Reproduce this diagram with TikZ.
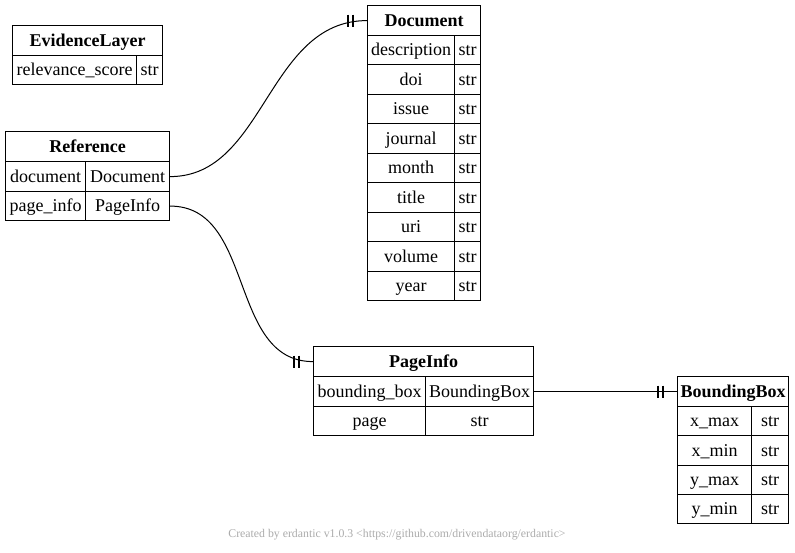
\documentclass[tikz,border=0pt]{standalone}
\usepackage{fontspec}
\setmainfont{Liberation Serif}
\newcommand\tabfont{\fontsize{18}{20}\selectfont}
\newcommand\footfont{\fontsize{11.8}{14}\selectfont}
\tikzset{
  cell/.style={draw, line width=1.2pt, inner sep=0pt, anchor=north west, font=\tabfont,
    text height=13.5pt, text depth=2.5pt},
  headcell/.style={cell, font=\tabfont\bfseries},
  rel/.style={draw, line width=1pt},
  bar/.style={draw, line width=2.8pt},
}
% \erow{name}{x}{y}{w1}{w2}{h}{key}{type}
\newcommand\erow[8]{%
  \node[cell, minimum width=#4pt, minimum height=#6pt] (#1-k) at (#2,#3) {#7};
  \node[cell, minimum width=#5pt, minimum height=#6pt] (#1-t) at (#2+#4,#3) {#8};
}
\newcommand\ehead[6]{% name x y w h text
  \node[headcell, minimum width=#4pt, minimum height=#5pt] (#1) at (#2,#3) {#6};
}
\begin{document}
\begin{tikzpicture}[x=1pt,y=-1pt]
\useasboundingbox (0,0) rectangle (795,553);
% EvidenceLayer
\ehead{ev}{12}{25}{150}{30}{EvidenceLayer}
\erow{evrel}{12}{55}{124}{26}{29}{relevance\_score}{str}
% Reference
\ehead{ref}{5}{131}{164}{30}{Reference}
\erow{refdoc}{5}{161}{80}{84}{30}{document}{Document}
\erow{refpage}{5}{191}{80}{84}{29}{page\_info}{PageInfo}
% Document
\ehead{doc}{367}{5}{113}{30}{Document}
\erow{d1}{367}{35}{87}{26}{29}{description}{str}
\erow{d2}{367}{64}{87}{26}{30}{doi}{str}
\erow{d3}{367}{94}{87}{26}{29}{issue}{str}
\erow{d4}{367}{123}{87}{26}{30}{journal}{str}
\erow{d5}{367}{153}{87}{26}{29}{month}{str}
\erow{d6}{367}{182}{87}{26}{30}{title}{str}
\erow{d7}{367}{212}{87}{26}{29}{uri}{str}
\erow{d8}{367}{241}{87}{26}{30}{volume}{str}
\erow{d9}{367}{271}{87}{26}{29}{year}{str}
% PageInfo
\ehead{pi}{313}{346}{220}{30}{PageInfo}
\erow{pibb}{313}{376}{112}{108}{30}{bounding\_box}{BoundingBox}
\erow{pipage}{313}{406}{112}{108}{29}{page}{str}
% BoundingBox
\ehead{bb}{677}{376}{111}{30}{BoundingBox}
\erow{b1}{677}{406}{74}{37}{29}{x\_max}{str}
\erow{b2}{677}{435}{74}{37}{30}{x\_min}{str}
\erow{b3}{677}{465}{74}{37}{29}{y\_max}{str}
\erow{b4}{677}{494}{74}{37}{29}{y\_min}{str}
% relations
\draw[rel] (refdoc-t.east) .. controls +(95,0) and +(-100,0) .. (doc.west);
\draw[rel] (refpage-t.east) .. controls +(85,0) and +(-85,0) .. (pi.west);
\draw[rel] (pibb-t.east) -- (bb.west);
% crow's foot "one" marks
\foreach \n in {doc,pi,bb}{
  \draw[bar] ([xshift=-19pt]\n.west) ++(0,-6) -- ++(0,12);
  \draw[bar] ([xshift=-14pt]\n.west) ++(0,-6) -- ++(0,12);
}
\node[font=\footfont, text=black!33, inner sep=0pt] (foot) at (397,535) {Created by erdantic v1.0.3 <https://github.com/drivendataorg/erdantic>};
\end{tikzpicture}
\end{document}
